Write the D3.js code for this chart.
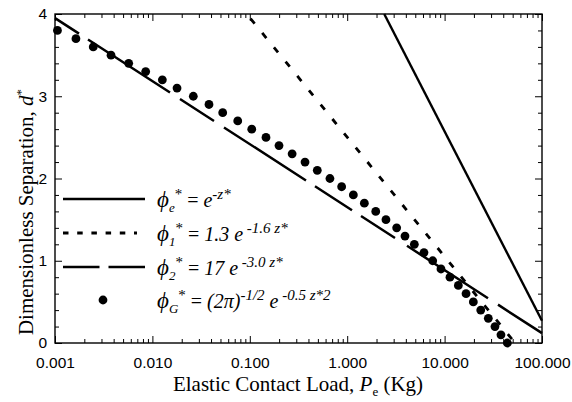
<!DOCTYPE html>
<html>
<head>
<meta charset="utf-8">
<script src="https://cdn.jsdelivr.net/npm/d3@7"></script>
<style>
  body { margin: 0; background: #fff; }
  svg { display: block; }
  .tick text { font-family: "Liberation Sans", Arial, sans-serif; font-size: 15.5px; fill: #000; }
  .tick line { stroke: #000; stroke-width: 1; }
</style>
</head>
<body>
<svg id="chart" width="572" height="402"></svg>
<script>
// Dimensionless separation vs. elastic contact load for four asperity height distributions

// axis ticks
const xTickValues = [0.001, 0.01, 0.1, 1, 10, 100];
const xTickLabels = ["0.001", "0.010", "0.100", "1.000", "10.000", "100.000"];
const yTickValues = [0, 1, 2, 3, 4];
const yTickLabels = ["0", "1", "2", "3", "4"];

// phi_e = e^-z  (straight on semi-log axes: end points)
const expLoad = [2.4, 100];
const expSep = [4.0, 0.27];

// phi_1 = 1.3 e^-1.6z
const phi1Load = [0.093, 53];
const phi1Sep = [4.0, 0.0];

// phi_2 = 17 e^-3.0z
const phi2Load = [0.001, 100];
const phi2Sep = [3.95, 0.12];

// Gaussian phi_G
const gaussSep = [3.8, 3.7, 3.6, 3.5, 3.4, 3.3, 3.2, 3.1, 3.0, 2.9,
                  2.8, 2.7, 2.6, 2.5, 2.4, 2.3, 2.2, 2.1, 2.0, 1.9,
                  1.8, 1.7, 1.6, 1.5, 1.4, 1.3, 1.2, 1.1, 1.0, 0.9,
                  0.8, 0.7, 0.6, 0.5, 0.4, 0.3, 0.2, 0.1, 0.0];
const gaussLoad = [0.00106, 0.00164, 0.00247, 0.00376, 0.00571, 0.00853, 0.01265, 0.0179, 0.0263, 0.0381,
                   0.0527, 0.0752, 0.1047, 0.1466, 0.1995, 0.272, 0.369, 0.493, 0.665, 0.877,
                   1.156, 1.50, 1.963, 2.50, 3.22, 3.92, 4.89, 6.14, 7.55, 9.18,
                   11.35, 13.84, 16.60, 19.72, 23.50, 28.1, 32.9, 37.9, 44.1];

// legend texts: [text, italic, position]
const legendTexts = [
  [["\u03D5", 1, "big"], ["e", 1, "sub"], ["*", 0, "sup"], [" = ", 0, ""], ["e", 1, ""], ["-z*", 1, "sup"]],
  [["\u03D5", 1, "big"], ["1", 1, "sub"], ["*", 0, "sup"], [" = ", 0, ""], ["1.3 e", 1, ""], [" -1.6 z*", 1, "sup"]],
  [["\u03D5", 1, "big"], ["2", 1, "sub"], ["*", 0, "sup"], [" = ", 0, ""], ["17 e", 1, ""], [" -3.0 z*", 1, "sup"]],
  [["\u03D5", 1, "big"], ["G", 1, "sub"], ["*", 0, "sup"], [" = ", 0, ""], ["(2\u03C0)", 1, ""], ["-1/2", 1, "sup"], [" e", 1, ""], [" -0.5 z*2", 1, "sup"]]
];

const svg = d3.select("#chart");
const plotL = 55, plotR = 542, plotT = 14, plotB = 343;

const x = d3.scaleLog().domain([0.001, 100]).range([plotL, plotR]);
const y = d3.scaleLinear().domain([0, 4]).range([plotB, plotT]);

// minor tick positions
const xMinor = [];
[0.001, 0.01, 0.1, 1, 10].forEach(dec => { for (let k = 2; k <= 9; k++) xMinor.push(k * dec); });
const yMinor = d3.range(0, 4.0001, 0.2).filter(v => Math.abs(v - Math.round(v)) > 1e-6);

function axisGroup(axis, tx, ty) {
  const g = svg.append("g").attr("transform", `translate(${tx},${ty})`).call(axis);
  g.select(".domain").remove();
  return g;
}

// bottom
axisGroup(d3.axisBottom(x).tickValues(xTickValues).tickFormat((d, i) => xTickLabels[i])
  .tickSizeInner(-7).tickSizeOuter(0).tickPadding(14), 0, plotB);
axisGroup(d3.axisBottom(x).tickValues(xMinor).tickFormat("").tickSizeInner(-4).tickSizeOuter(0), 0, plotB);
// top
axisGroup(d3.axisTop(x).tickValues(xTickValues).tickFormat("").tickSizeInner(-7).tickSizeOuter(0), 0, plotT);
axisGroup(d3.axisTop(x).tickValues(xMinor).tickFormat("").tickSizeInner(-4).tickSizeOuter(0), 0, plotT);
// left
axisGroup(d3.axisLeft(y).tickValues(yTickValues).tickFormat((d, i) => yTickLabels[i])
  .tickSizeInner(-7).tickSizeOuter(0).tickPadding(8), plotL, 0);
axisGroup(d3.axisLeft(y).tickValues(yMinor).tickFormat("").tickSizeInner(-4).tickSizeOuter(0), plotL, 0);
// right
axisGroup(d3.axisRight(y).tickValues(yTickValues).tickFormat("").tickSizeInner(-7).tickSizeOuter(0), plotR, 0);
axisGroup(d3.axisRight(y).tickValues(yMinor).tickFormat("").tickSizeInner(-4).tickSizeOuter(0), plotR, 0);

// frame
svg.append("rect").attr("x", plotL).attr("y", plotT).attr("width", plotR - plotL).attr("height", plotB - plotT)
  .attr("fill", "none").attr("stroke", "#000").attr("stroke-width", 1.4);

const line = d3.line().x(d => x(d[0])).y(d => y(d[1]));
const zip = (a, b) => a.map((v, i) => [v, b[i]]);

// phi_e solid
svg.append("path").attr("d", line(zip(expLoad, expSep)))
  .attr("fill", "none").attr("stroke", "#000").attr("stroke-width", 2.4);

// phi_1 short dashes
svg.append("path").attr("d", line(zip(phi1Load, phi1Sep)))
  .attr("fill", "none").attr("stroke", "#000").attr("stroke-width", 2.8)
  .attr("stroke-dasharray", "6.5,12").attr("stroke-dashoffset", 12.5);

// phi_2 long dashes (pattern given in horizontal pixel spans, converted along the path)
const p2 = svg.append("path").attr("d", line(zip(phi2Load, phi2Sep)))
  .attr("fill", "none").attr("stroke", "#000").attr("stroke-width", 2.5);
const p2Len = p2.node().getTotalLength();
const p2Factor = p2Len / (x(phi2Load[1]) - x(phi2Load[0]));
const p2Spans = [24, 9, 82, 10, 34, 10, 82, 9, 37, 9, 34, 12, 81, 10, 60];
p2.attr("stroke-dasharray", p2Spans.map(s => (s * p2Factor).toFixed(2)).join(","));

// Gaussian points
svg.append("g").selectAll("circle").data(zip(gaussLoad, gaussSep)).join("circle")
  .attr("cx", d => x(d[0])).attr("cy", d => y(d[1])).attr("r", 4.4).attr("fill", "#000");

// legend
const lgX0 = 63, lgX1 = 145, lgY = [199, 233, 267, 300], lgTextX = 157;
svg.append("line").attr("x1", lgX0).attr("x2", lgX1).attr("y1", lgY[0]).attr("y2", lgY[0])
  .attr("stroke", "#000").attr("stroke-width", 2.4);
svg.append("line").attr("x1", lgX0).attr("x2", 137).attr("y1", lgY[1]).attr("y2", lgY[1])
  .attr("stroke", "#000").attr("stroke-width", 2.8).attr("stroke-dasharray", "5.5,8.7");
svg.append("line").attr("x1", lgX0).attr("x2", lgX1).attr("y1", lgY[2]).attr("y2", lgY[2])
  .attr("stroke", "#000").attr("stroke-width", 2.5).attr("stroke-dasharray", "36.5,9");
svg.append("circle").attr("cx", (lgX0 + lgX1) / 2 - 1).attr("cy", lgY[3]).attr("r", 4.4).attr("fill", "#000");

function richText(t, parts, sizes) {
  let cur = 0;
  parts.forEach(([s, it, pos]) => {
    const target = pos === "sup" ? -8 : pos === "sub" ? 5 : 0;
    t.append("tspan").attr("dy", target - cur)
      .attr("font-size", sizes[pos || "base"])
      .attr("font-style", it ? "italic" : "normal")
      .text(s);
    cur = target;
  });
}

legendTexts.forEach((parts, i) => {
  const t = svg.append("text").attr("x", lgTextX).attr("y", lgY[i] + 8)
    .attr("font-family", "'Liberation Serif', 'Times New Roman', serif").attr("fill", "#000")
    .style("white-space", "pre");
  richText(t, parts, { base: 20, sup: 15, sub: 13, big: 23 });
});

// axis titles
const xt = svg.append("text").attr("x", 298).attr("y", 391).attr("text-anchor", "middle")
  .attr("font-family", "'Liberation Serif', 'Times New Roman', serif").attr("font-size", 21).attr("fill", "#000")
  .style("white-space", "pre");
xt.append("tspan").text("Elastic Contact Load, ");
xt.append("tspan").attr("font-style", "italic").text("P");
xt.append("tspan").attr("font-size", 13).attr("dy", 5).text("e");
xt.append("tspan").attr("dy", -5).text(" (Kg)");

const yt = svg.append("text").attr("transform", "translate(33,212) rotate(-90)").attr("text-anchor", "middle")
  .attr("font-family", "'Liberation Serif', 'Times New Roman', serif").attr("font-size", 21).attr("fill", "#000")
  .style("white-space", "pre");
yt.append("tspan").text("Dimensionless Separation, ");
yt.append("tspan").attr("font-style", "italic").text("d");
yt.append("tspan").attr("font-size", 13).attr("dy", -8).text("*");
</script>
</body>
</html>
